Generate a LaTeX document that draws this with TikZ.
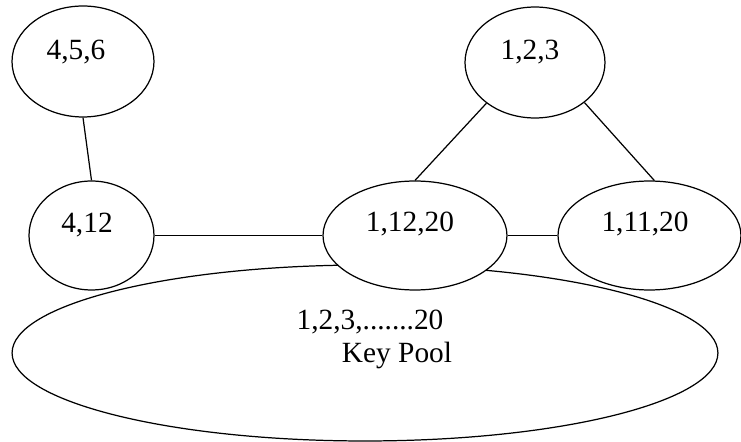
\documentclass[tikz,border=0pt]{standalone}
\usepackage{fontspec}
\setmainfont{Liberation Serif}
\usepackage{tikz}
\usetikzlibrary{shapes.geometric, positioning}

\begin{document}
\begin{tikzpicture}[
    x=0.02cm, y=-0.02cm,
    sensor/.style={draw, ellipse, fill=white, inner sep=0pt, line width=0.7pt},
    pool/.style={draw, ellipse, inner sep=0pt, line width=0.7pt},
    keys/.style={inner sep=0pt, font=\fontsize{16.7}{20}\selectfont},
    link/.style={-, line width=0.7pt},
]
\useasboundingbox (0, 0) rectangle (741, 442);

% === KEY POOL ===
\node[pool, minimum width=14.12cm, minimum height=3.52cm] (pool) at (365, 353) {};
\node[keys] (pool_ids) at (370, 322) {1,2,3,.......20};
\node[keys] (pool_name) at (397, 355) {Key Pool};

% === SENSOR NODES ===
% Node 4,5,6
\node[sensor, minimum width=2.84cm, minimum height=2.22cm] (s456) at (83, 61.5) {};
\node[keys] (s456_txt) at (76, 52) {4,5,6};

% Node 1,2,3
\node[sensor, minimum width=2.8cm, minimum height=2.22cm] (s123) at (535, 62.5) {};
\node[keys] (s123_txt) at (530, 52) {1,2,3};

% Node 4,12
\node[sensor, minimum width=2.5cm, minimum height=2.18cm] (s412) at (91.5, 235.5) {};
\node[keys] (s412_txt) at (87, 225) {4,12};

% Node 1,12,20
\node[sensor, minimum width=3.68cm, minimum height=2.18cm] (s11220) at (415, 235.5) {};
\node[keys] (s11220_txt) at (410, 224) {1,12,20};

% Node 1,11,20
\node[sensor, minimum width=3.66cm, minimum height=2.18cm] (s11120) at (649.5, 235.5) {};
\node[keys] (s11120_txt) at (645, 224) {1,11,20};

% Connections
\draw[link] (s456.south) -- (s412.north);
\draw[link] (s123.220) -- (s11220.north);
\draw[link] (s123.321) -- (s11120.85);
\draw[link] (s412.east) -- (s11220.west);
\draw[link] (s11220.east) -- (s11120.west);

\end{tikzpicture}
\end{document}
